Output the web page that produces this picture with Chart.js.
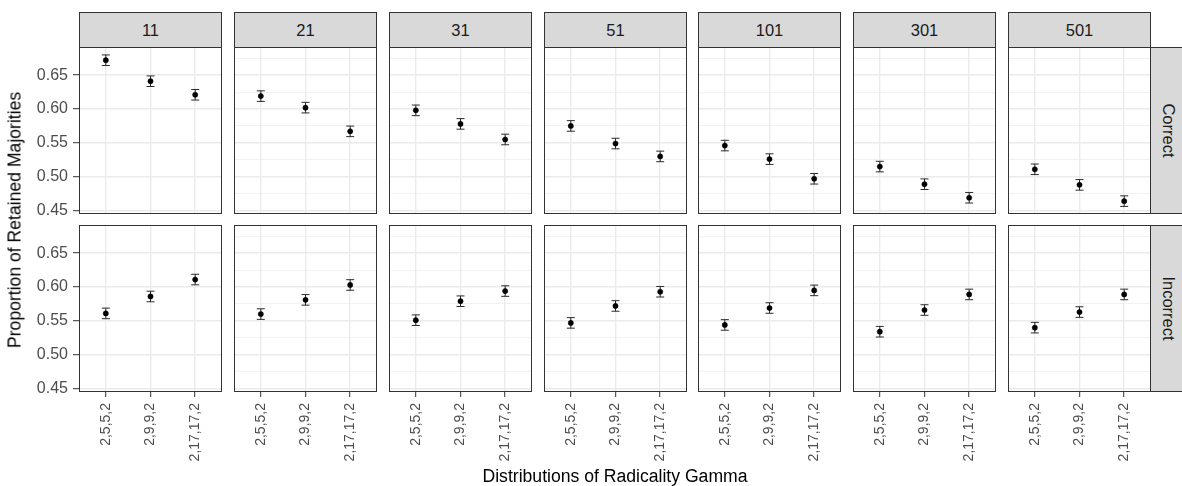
<!DOCTYPE html>
<html>
<head>
<meta charset="utf-8">
<script src="https://cdn.jsdelivr.net/npm/chart.js@4.4.0/dist/chart.umd.min.js"></script>
<style>
html, body { margin: 0; padding: 0; background: #ffffff; }
#wrap { position: relative; width: 1182px; height: 486px; overflow: hidden; font-family: "Liberation Sans", Arial, sans-serif; }
#wrap canvas { position: absolute; }
.strip { position: absolute; background: #D9D9D9; border: 1px solid #333333; box-sizing: border-box; color: #1A1A1A; font-size: 16.5px; display: flex; align-items: center; justify-content: center; }
.strip span { display: block; white-space: nowrap; }
.rstrip span { transform: rotate(90deg); }
.title { position: absolute; color: #000; font-size: 17.6px; white-space: nowrap; }
</style>
</head>
<body>
<div id="wrap"></div>
<script>
// ---- data ----
const categories = ['2,5,5,2', '2,9,9,2', '2,17,17,2'];
const groupSizes = ['11', '21', '31', '51', '101', '301', '501'];
const outcomes = ['Correct', 'Incorrect'];

const correctMeans = [
  [0.672, 0.641, 0.621],
  [0.619, 0.602, 0.567],
  [0.598, 0.578, 0.555],
  [0.575, 0.549, 0.530],
  [0.546, 0.526, 0.497],
  [0.515, 0.489, 0.469],
  [0.511, 0.488, 0.464]
];
const incorrectMeans = [
  [0.561, 0.586, 0.611],
  [0.560, 0.581, 0.603],
  [0.551, 0.579, 0.594],
  [0.547, 0.572, 0.593],
  [0.544, 0.569, 0.595],
  [0.534, 0.566, 0.589],
  [0.540, 0.563, 0.589]
];
const correctErr = [
  [0.0078, 0.0078, 0.0078],
  [0.0078, 0.0078, 0.0078],
  [0.0078, 0.0078, 0.0078],
  [0.0078, 0.0078, 0.0078],
  [0.0078, 0.0078, 0.0078],
  [0.0078, 0.0078, 0.0078],
  [0.0078, 0.0078, 0.0078]
];
const incorrectErr = [
  [0.0078, 0.0078, 0.0078],
  [0.0078, 0.0078, 0.0078],
  [0.0078, 0.0078, 0.0078],
  [0.0078, 0.0078, 0.0078],
  [0.0078, 0.0078, 0.0078],
  [0.0078, 0.0078, 0.0078],
  [0.0078, 0.0078, 0.0078]
];
const yMajorTicks = [0.45, 0.50, 0.55, 0.60, 0.65];
const yMinorTicks = [0.475, 0.525, 0.575, 0.625, 0.675];
const yLimits = [0.445, 0.6915];
const xTitle = 'Distributions of Radicality Gamma';
const yTitle = 'Proportion of Retained Majorities';

// ---- layout ----
const PANEL_X = [79, 234, 389, 544, 698, 853, 1008];
const PANEL_W = 143;
const ROW_Y = [47, 225];
const PANEL_H = 167;
const STRIP_TOP = 12;
const Y_AXIS_W = 79;
const X_AXIS_H = 90;
const FONT = '"Liberation Sans", Arial, sans-serif';

const wrap = document.getElementById('wrap');
const allYTicks = yMajorTicks.concat(yMinorTicks).sort((a, b) => a - b);
const isMajor = v => yMajorTicks.some(m => Math.abs(m - v) < 1e-9);

const panelBorder = {
  id: 'panelBorder',
  afterDraw(chart) {
    const a = chart.chartArea, ctx = chart.ctx;
    ctx.save();
    ctx.strokeStyle = '#333333';
    ctx.lineWidth = 1;
    ctx.strokeRect(a.left + 0.5, a.top + 0.5, a.right - a.left - 1, a.bottom - a.top - 1);
    ctx.restore();
  }
};

function makePanel(r, c) {
  const means = (r === 0 ? correctMeans : incorrectMeans)[c];
  const errs = (r === 0 ? correctErr : incorrectErr)[c];
  const L = c === 0 ? Y_AXIS_W : 1;
  const B = r === 1 ? X_AXIS_H : 1;
  const w = PANEL_W + L + 1;
  const h = PANEL_H + 1 + B;
  const cv = document.createElement('canvas');
  cv.width = w; cv.height = h;
  cv.style.width = w + 'px'; cv.style.height = h + 'px';
  cv.style.left = (PANEL_X[c] - L) + 'px';
  cv.style.top = (ROW_Y[r] - 1) + 'px';
  wrap.appendChild(cv);

  const datasets = [{
    data: means.map((m, i) => ({ x: i + 1, y: m })),
    showLine: false,
    pointRadius: 2.6,
    pointBackgroundColor: '#000000',
    pointBorderColor: '#000000',
    pointBorderWidth: 0.5
  }];
  means.forEach((m, i) => {
    datasets.push({
      data: [{ x: i + 1, y: m - errs[i] }, { x: i + 1, y: m + errs[i] }],
      showLine: true,
      borderColor: '#2b2b2b',
      borderWidth: 1,
      pointStyle: 'line',
      pointRadius: 4,
      pointBorderColor: '#2b2b2b',
      pointBorderWidth: 1
    });
  });

  new Chart(cv, {
    type: 'scatter',
    data: { datasets },
    plugins: [panelBorder],
    options: {
      responsive: false,
      animation: false,
      events: [],
      layout: { autoPadding: false, padding: { left: c === 0 ? 0 : 1, right: 1, top: 1, bottom: r === 1 ? 0 : 1 } },
      plugins: { legend: { display: false }, tooltip: { enabled: false }, title: { display: false } },
      scales: {
        x: {
          type: 'linear',
          min: 0.4, max: 3.6,
          afterBuildTicks: s => { s.ticks = categories.map((k, i) => ({ value: i + 1 })); },
          afterFit: s => {
            s.height = r === 1 ? X_AXIS_H : 0;
            s.paddingLeft = 0; s.paddingRight = 0; s.paddingTop = 0; s.paddingBottom = 0;
          },
          border: { display: false },
          grid: {
            color: '#EBEBEB', lineWidth: 1.4,
            drawTicks: r === 1, tickLength: 5, tickColor: '#333333', tickWidth: 1
          },
          ticks: {
            display: r === 1,
            autoSkip: false,
            minRotation: 90, maxRotation: 90,
            padding: 6,
            color: '#4D4D4D',
            font: { family: FONT, size: 14 },
            callback: v => categories[Math.round(v) - 1]
          }
        },
        y: {
          type: 'linear',
          min: yLimits[0], max: yLimits[1],
          afterBuildTicks: s => { s.ticks = allYTicks.map(v => ({ value: v })); },
          afterFit: s => {
            s.width = c === 0 ? Y_AXIS_W : 0;
            s.paddingLeft = 0; s.paddingRight = 0; s.paddingTop = 0; s.paddingBottom = 0;
          },
          border: { display: false },
          grid: {
            color: '#EBEBEB',
            lineWidth: ctx => (ctx.tick && isMajor(ctx.tick.value)) ? 1.4 : 0.7,
            drawTicks: c === 0, tickLength: 6, tickWidth: 1,
            tickColor: ctx => (ctx.tick && isMajor(ctx.tick.value)) ? '#333333' : 'rgba(0,0,0,0)'
          },
          ticks: {
            display: c === 0,
            padding: 5,
            color: '#4D4D4D',
            font: { family: FONT, size: 16 },
            callback: v => isMajor(v) ? v.toFixed(2) : ''
          }
        }
      }
    }
  });
}

// strips along the top
groupSizes.forEach((g, c) => {
  const d = document.createElement('div');
  d.className = 'strip';
  d.style.left = PANEL_X[c] + 'px';
  d.style.top = STRIP_TOP + 'px';
  d.style.width = PANEL_W + 'px';
  d.style.height = (ROW_Y[0] - STRIP_TOP + 1) + 'px';
  d.innerHTML = '<span>' + g + '</span>';
  wrap.appendChild(d);
});
// strips along the right
outcomes.forEach((o, r) => {
  const d = document.createElement('div');
  d.className = 'strip rstrip';
  d.style.left = (PANEL_X[6] + PANEL_W - 1) + 'px';
  d.style.top = ROW_Y[r] + 'px';
  d.style.width = '36px';
  d.style.height = PANEL_H + 'px';
  d.innerHTML = '<span>' + o + '</span>';
  wrap.appendChild(d);
});

for (let r = 0; r < 2; r++) for (let c = 0; c < 7; c++) makePanel(r, c);

// axis titles
const xt = document.createElement('div');
xt.className = 'title';
xt.textContent = xTitle;
xt.style.left = ((PANEL_X[0] + PANEL_X[6] + PANEL_W) / 2) + 'px';
xt.style.top = '476px';
xt.style.transform = 'translate(-50%, -50%)';
wrap.appendChild(xt);

const yt = document.createElement('div');
yt.className = 'title';
yt.textContent = yTitle;
yt.style.left = '15px';
yt.style.top = ((ROW_Y[0] + ROW_Y[1] + PANEL_H) / 2) + 'px';
yt.style.transform = 'translate(-50%, -50%) rotate(-90deg)';
wrap.appendChild(yt);
</script>
</body>
</html>
